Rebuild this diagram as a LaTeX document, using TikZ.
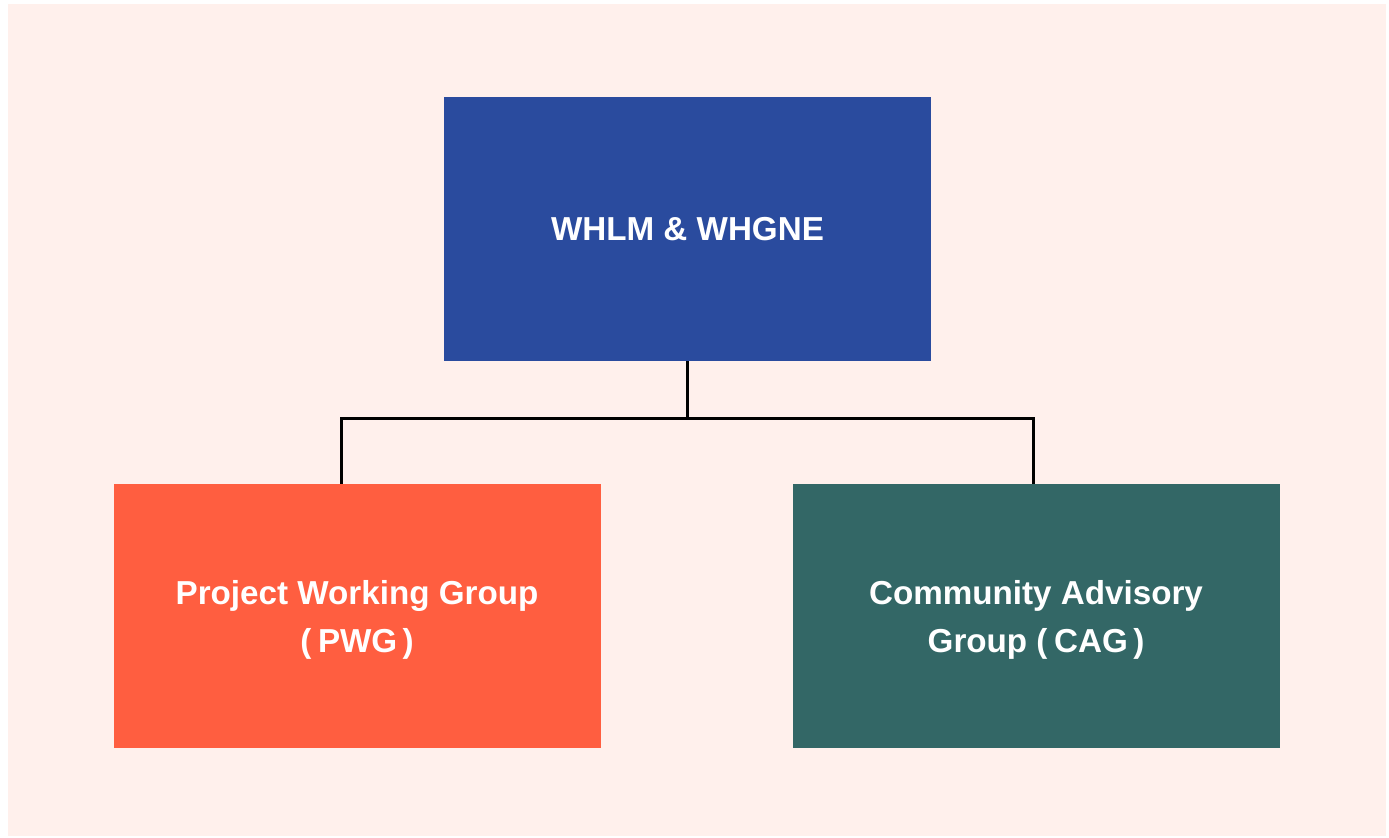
\documentclass[tikz,border=0pt]{standalone}
\usepackage{fontspec}
\setmainfont{Liberation Sans}
\definecolor{pagebg}{HTML}{FFF0EC}
\definecolor{topblue}{HTML}{2A4B9E}
\definecolor{pwgred}{HTML}{FF5E40}
\definecolor{cagteal}{HTML}{336766}
\newcommand{\pa}[1]{(\hspace{0.2em}#1\hspace{0.16em})}
\begin{document}
\begin{tikzpicture}[x=0.5pt,y=-0.5pt,
  orgbox/.style={rectangle, minimum width=243.5pt, minimum height=132pt,
    inner sep=0pt},
  boxtext/.style={inner sep=0pt, text=white, align=center,
    font=\fontsize{16.6}{24}\selectfont\bfseries},
  link/.style={draw=black, line width=1.5pt}]
  \useasboundingbox (0,0) rectangle (1389,838);
  \fill[white] (0,0) rectangle (1389,838);
  \fill[pagebg] (8,4) rectangle (1386,836);
  % the three boxes
  \node[orgbox, fill=topblue] (top) at (687.5,229) {};
  \node[orgbox, fill=pwgred] (pwg) at (357,616) {};
  \node[orgbox, fill=cagteal] (cag) at (1036,616) {};
  % their labels
  \node[boxtext] (toptext) at (top) {WHLM \& WHGNE};
  \node[boxtext, yshift=-1.8pt] (pwgtext) at (pwg) {Project Working Group\\\pa{PWG}};
  \node[boxtext, yshift=-1.8pt] (cagtext) at (cag) {Community Advisory\\Group \pa{CAG}};
  % connectors
  \coordinate (split) at (687.5,419);
  \draw[link] (top.south) -- (split);
  \draw[link, line join=miter] (pwg.north -| 341,0) |- (split) -| (cag.north -| 1033,0);
\end{tikzpicture}
\end{document}
